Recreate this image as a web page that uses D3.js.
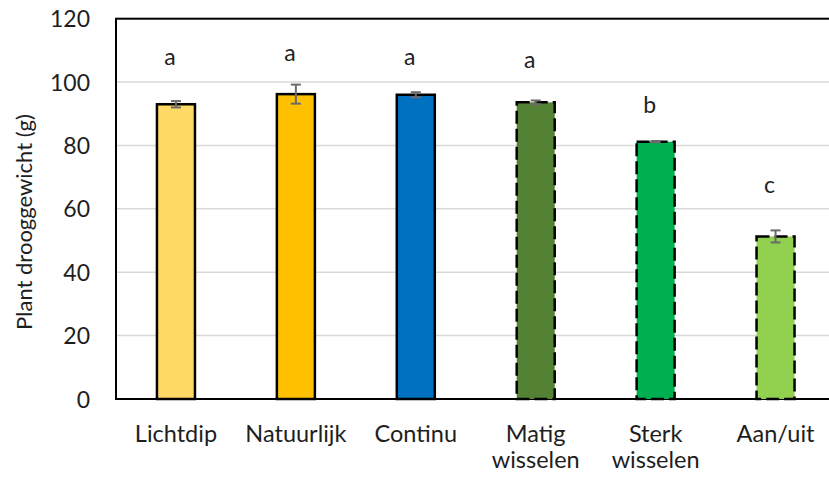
<!DOCTYPE html>
<html>
<head>
<meta charset="utf-8">
<script src="https://cdn.jsdelivr.net/npm/d3@7"></script>
<style>
  html, body { margin: 0; padding: 0; background: #fff; }
  svg text { font-family: Lato, "Open Sans", sans-serif; fill: #1e1e1e; }
</style>
</head>
<body>
<svg id="chart" width="829" height="480"></svg>
<script>
// Treatments (x-axis labels, may wrap onto two lines)
const categories = ["Lichtdip", "Natuurlijk", "Continu", "Matig wisselen", "Sterk wisselen", "Aan/uit"];
const labelLines = [["Lichtdip"], ["Natuurlijk"], ["Continu"], ["Matig", "wisselen"], ["Sterk", "wisselen"], ["Aan/uit"]];
// Mean plant dry weight (g) and its error
const values = [93.0, 96.2, 96.0, 93.6, 81.2, 51.3];
const errors = [1.0, 3.0, 0.8, 0.6, 0.2, 1.9];
// Significance letters and the height (g) of their baseline
const letters = ["a", "a", "a", "a", "b", "c"];
const letterY = [105.5, 106.8, 105.5, 104.6, 90.4, 64.9];
// Fill colours and outline style per treatment
const colors = ["#FFD966", "#FFC000", "#0070C0", "#548235", "#00B050", "#92D050"];
const dashed = [false, false, false, true, true, true];
// Y axis
const yTicks = [0, 20, 40, 60, 80, 100, 120];
const yTitle = "Plant drooggewicht (g)";

const svg = d3.select("#chart");
const plotL = 116, plotR = 835.5, plotT = 18.7, plotB = 399;

const y = d3.scaleLinear().domain([0, 120]).range([plotB, plotT]);
const x = d3.scaleBand().domain(categories).range([plotL, plotR])
  .paddingInner(0.683).paddingOuter(0.3415);

// Horizontal gridlines
svg.append("g").selectAll("line").data(yTicks.filter(t => t > 0 && t < 120)).join("line")
  .attr("x1", plotL).attr("x2", plotR)
  .attr("y1", d => y(d)).attr("y2", d => y(d))
  .attr("stroke", "#d9d9d9").attr("stroke-width", 1.5);

// Y axis tick labels
const yAxis = svg.append("g").attr("transform", `translate(${plotL},0)`)
  .call(d3.axisLeft(y).tickValues(yTicks).tickSize(0).tickPadding(26));
yAxis.select(".domain").remove();
yAxis.selectAll("text").attr("font-size", 23).attr("dy", "0.35em")
  .style("font-family", "Lato, 'Open Sans', sans-serif").attr("fill", "#1e1e1e");

// Plot frame
svg.append("rect").attr("x", plotL).attr("y", plotT)
  .attr("width", plotR - plotL).attr("height", plotB - plotT)
  .attr("fill", "none").attr("stroke", "#000").attr("stroke-width", 2);

// Bars
svg.append("g").selectAll("rect").data(categories).join("rect")
  .attr("x", d => x(d)).attr("width", x.bandwidth())
  .attr("y", (d, i) => y(values[i])).attr("height", (d, i) => y(0) - y(values[i]))
  .attr("fill", (d, i) => colors[i])
  .attr("stroke", "#000").attr("stroke-width", 2.5)
  .attr("stroke-dasharray", (d, i) => dashed[i] ? "13,5" : null);

// Error bars
const eb = svg.append("g").attr("stroke", "#6b6b6b").attr("stroke-width", 2);
categories.forEach((c, i) => {
  const cx = x(c) + x.bandwidth() / 2;
  const hi = y(values[i] + errors[i]), lo = y(values[i] - errors[i]);
  eb.append("line").attr("x1", cx).attr("x2", cx).attr("y1", hi).attr("y2", lo);
  eb.append("line").attr("x1", cx - 5).attr("x2", cx + 5).attr("y1", hi).attr("y2", hi);
  eb.append("line").attr("x1", cx - 5).attr("x2", cx + 5).attr("y1", lo).attr("y2", lo);
});

// Significance letters
svg.append("g").selectAll("text").data(categories).join("text")
  .attr("x", d => x(d) + x.bandwidth() / 2 - 6)
  .attr("y", (d, i) => y(letterY[i]))
  .attr("text-anchor", "middle").attr("font-size", 23)
  .text((d, i) => letters[i]);

// Category labels
const xl = svg.append("g");
categories.forEach((c, i) => {
  const t = xl.append("text").attr("text-anchor", "middle").attr("font-size", 23.5)
    .attr("x", x(c) + x.bandwidth() / 2).attr("y", 442);
  labelLines[i].forEach((line, k) => {
    t.append("tspan").attr("x", x(c) + x.bandwidth() / 2).attr("dy", k === 0 ? 0 : 26).text(line);
  });
});

// Y axis title
svg.append("text")
  .attr("transform", `translate(32,222) rotate(-90)`)
  .attr("text-anchor", "middle").attr("font-size", 22)
  .text(yTitle);
</script>
</body>
</html>
